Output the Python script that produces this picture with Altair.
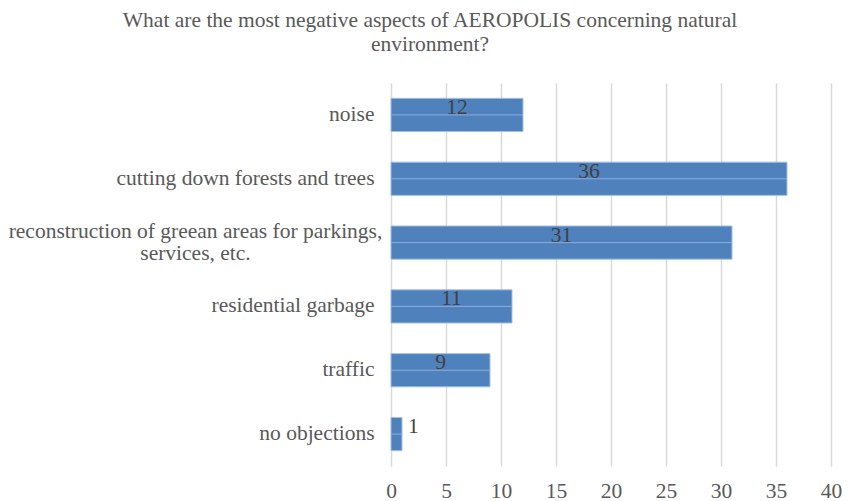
import altair as alt
import pandas as pd

categories = [
    "noise",
    "cutting down forests and trees",
    "reconstruction of greean areas for parkings, services, etc.",
    "residential garbage",
    "traffic",
    "no objections",
]
counts = [12, 36, 31, 11, 9, 1]
x_ticks = [0, 5, 10, 15, 20, 25, 30, 35, 40]
title_lines = [
    "What are the most negative aspects of AEROPOLIS concerning natural",
    "environment?",
]

df = pd.DataFrame({"category": categories, "count": counts})
LONG = categories[2]

FONT = "Times New Roman, Liberation Serif, serif"
FS = 21.5

label_expr = (
    f"datum.value == '{LONG}' ? ['reconstruction of greean areas for parkings,', 'services, etc.'] : datum.value"
)
is_long = f"datum.value == '{LONG}'"

y_enc = alt.Y(
    "category:N",
    sort=categories,
    scale=alt.Scale(paddingInner=0.48, paddingOuter=0.24),
    axis=alt.Axis(
        title=None,
        ticks=False,
        domain=False,
        grid=False,
        labelFont=FONT,
        labelFontSize=FS,
        labelColor="#595959",
        labelLineHeight=22,
        labelLimit=500,
        labelExpr=label_expr,
        labelAlign={"condition": {"test": is_long, "value": "center"}, "value": "right"},
        labelPadding={"condition": {"test": is_long, "value": 196}, "value": 17},
        labelOffset={"condition": {"test": is_long, "value": -11}, "value": 0},
    ),
)

x_scale = alt.Scale(domain=[0, 40], nice=False)
x_enc = alt.X(
    "count:Q",
    scale=x_scale,
    axis=alt.Axis(
        title=None,
        values=x_ticks,
        ticks=False,
        domain=False,
        grid=True,
        gridColor="#d9d9d9",
        gridWidth=1.5,
        labelFont=FONT,
        labelFontSize=FS,
        labelColor="#595959",
        labelPadding=14,
        labelFlush=False,
    ),
)

base = alt.Chart(df)

bars = base.mark_bar(color="#4f81bd", stroke="#a4bfe3", strokeWidth=1).encode(
    x=x_enc,
    y=y_enc,
)

mid = base.transform_calculate(zero="0").mark_rule(color="#8aaedc", strokeWidth=1).encode(
    x=alt.X("zero:Q", scale=x_scale),
    x2="count",
    y=alt.Y("category:N", sort=categories),
)

inside = base.transform_filter("datum.count >= 3").transform_calculate(
    pos="datum.count / 2"
).mark_text(font=FONT, fontSize=FS, color="#404040", dy=-7, baseline="middle").encode(
    x=alt.X("pos:Q", scale=x_scale),
    y=alt.Y("category:N", sort=categories),
    text="count:Q",
)

outside = base.transform_filter("datum.count < 3").mark_text(
    font=FONT, fontSize=FS, color="#404040", dy=-7, dx=6, align="left", baseline="middle"
).encode(
    x=alt.X("count:Q", scale=x_scale),
    y=alt.Y("category:N", sort=categories),
    text="count:Q",
)

chart = (
    alt.layer(bars, mid, inside, outside)
    .properties(
        width=440,
        height=383,
        autosize=alt.AutoSizeParams(type="none"),
        padding={"left": 383, "top": 75, "right": 11, "bottom": 35},
        title=alt.TitleParams(
            text=title_lines,
            font=FONT,
            fontSize=FS,
            fontWeight="normal",
            color="#595959",
            anchor="middle",
            frame="group",
            dx=-181,
            offset=28,
            lineHeight=23.5,
        ),
    )
    .configure_view(stroke=None)
)

chart.save("out.html", embed_options={"renderer": "svg", "actions": False})
